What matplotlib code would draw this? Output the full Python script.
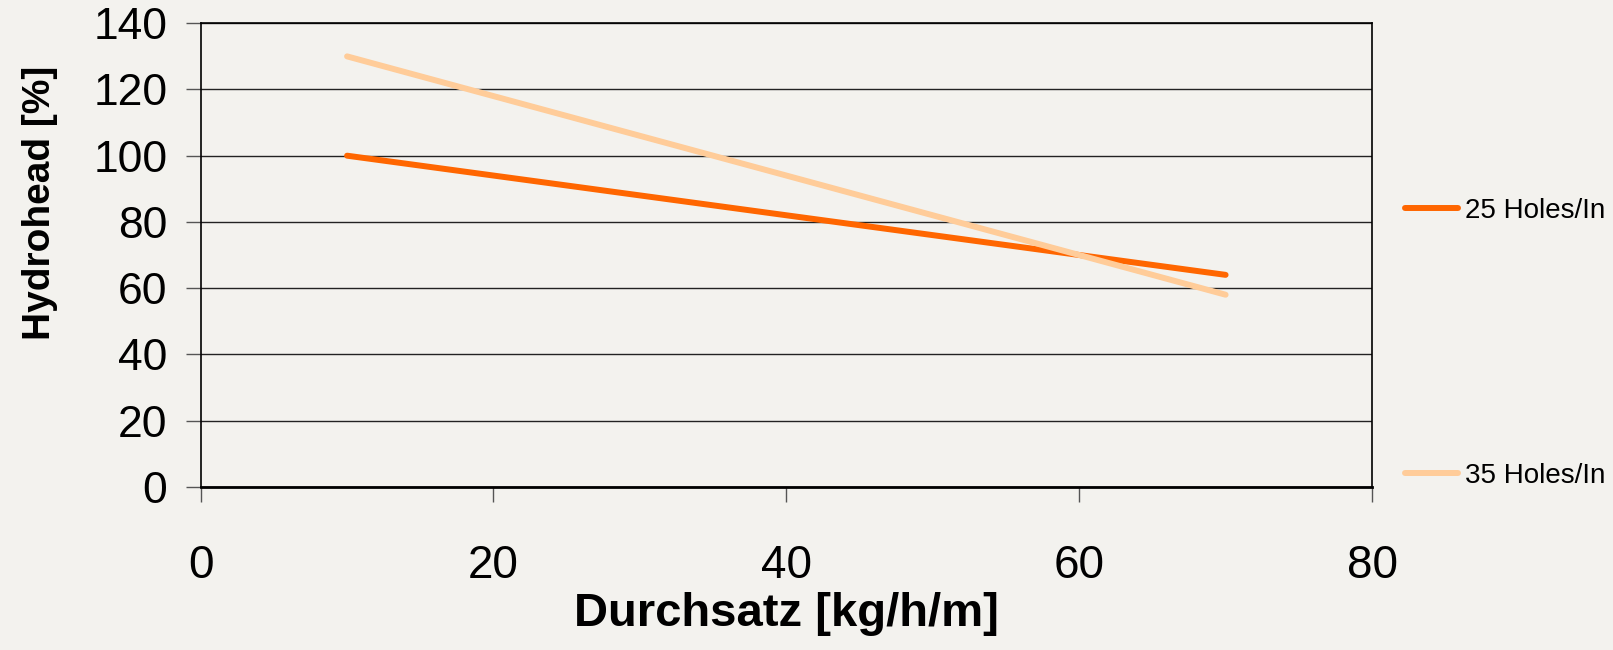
import matplotlib
matplotlib.use("Agg")
import matplotlib.pyplot as plt

# data
x_vals = [10, 70]
holes_25 = [100, 64]
holes_35 = [130, 58]
series_labels = ["25 Holes/In", "35 Holes/In"]
x_ticks = [0, 20, 40, 60, 80]
y_ticks = [0, 20, 40, 60, 80, 100, 120, 140]

bg = "#f3f2ee"
plt.rcParams["font.family"] = ["Liberation Sans", "DejaVu Sans"]

fig = plt.figure(figsize=(16.13, 6.5), dpi=100, facecolor=bg)
ax = fig.add_axes([0.1244, 0.2512, 0.7262, 0.7130], facecolor=bg)

ax.plot(x_vals, holes_25, color="#ff6600", lw=4.3, solid_capstyle="round",
        label=series_labels[0], zorder=3)
ax.plot(x_vals, holes_35, color="#ffcc99", lw=4.3, solid_capstyle="round",
        label=series_labels[1], zorder=3)

ax.set_xlim(0, 80)
ax.set_ylim(0, 140)
ax.set_xticks(x_ticks)
ax.set_yticks(y_ticks)
ax.yaxis.grid(True, color="#222222", lw=1.0)
ax.set_axisbelow(True)

for side in ["left", "right", "top"]:
    ax.spines[side].set_color("black")
    ax.spines[side].set_linewidth(1.2)
ax.spines["bottom"].set_color("black")
ax.spines["bottom"].set_linewidth(2.0)

ax.tick_params(axis="y", direction="out", length=11, width=1, color="#555555",
               labelsize=32, pad=13)
ax.tick_params(axis="x", direction="out", length=11, width=1, color="#555555",
               labelsize=33, pad=30)

ax.set_xlabel("Durchsatz [kg/h/m]", fontsize=34, fontweight="bold")
ax.set_ylabel("Hydrohead [%]", fontsize=28, fontweight="bold")
ax.xaxis.set_label_coords(0.5, -0.228)
ax.yaxis.set_label_coords(-0.122, 0.613)

leg = ax.legend(loc="center left", bbox_to_anchor=(0.871, 0.472),
                bbox_transform=fig.transFigure, frameon=False, fontsize=20,
                handlelength=1.9, handletextpad=0.25, labelspacing=8.6,
                borderpad=0, borderaxespad=0)

fig.savefig("out.png", dpi=100, facecolor=bg)
